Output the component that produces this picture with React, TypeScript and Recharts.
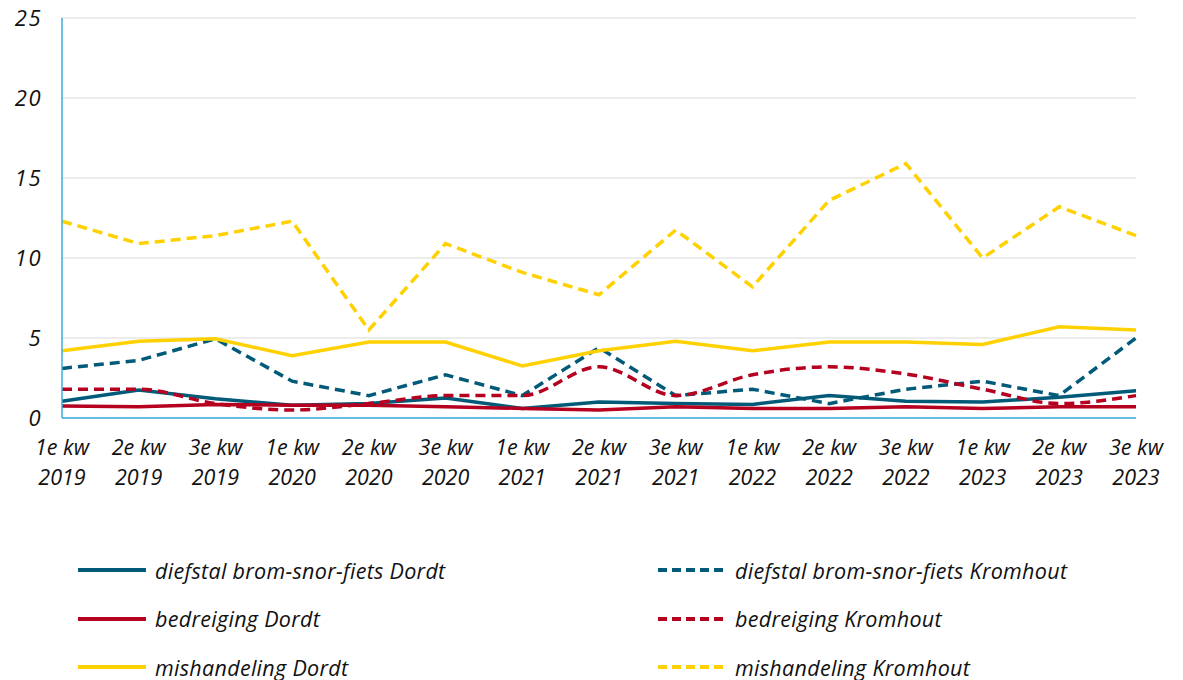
import React from "react";
import { LineChart, Line, XAxis, YAxis, CartesianGrid } from "recharts";

const quarters = [
  "1e kw|2019", "2e kw|2019", "3e kw|2019",
  "1e kw|2020", "2e kw|2020", "3e kw|2020",
  "1e kw|2021", "2e kw|2021", "3e kw|2021",
  "1e kw|2022", "2e kw|2022", "3e kw|2022",
  "1e kw|2023", "2e kw|2023", "3e kw|2023",
];

const diefstalDordt = [1.05, 1.75, 1.2, 0.8, 0.9, 1.25, 0.6, 1.0, 0.9, 0.85, 1.4, 1.05, 1.0, 1.3, 1.7];
const diefstalKromhout = [3.1, 3.6, 4.95, 2.3, 1.4, 2.7, 1.4, 4.4, 1.4, 1.8, 0.9, 1.8, 2.3, 1.4, 5.0];
const bedreigingDordt = [0.75, 0.7, 0.85, 0.8, 0.8, 0.7, 0.6, 0.5, 0.7, 0.6, 0.6, 0.7, 0.6, 0.7, 0.7];
const bedreigingKromhout = [1.8, 1.8, 0.9, 0.5, 0.9, 1.4, 1.4, 3.2, 1.4, 2.7, 3.2, 2.75, 1.8, 0.9, 1.4];
const mishandelingDordt = [4.2, 4.8, 4.95, 3.9, 4.75, 4.75, 3.25, 4.2, 4.8, 4.2, 4.75, 4.75, 4.6, 5.7, 5.5];
const mishandelingKromhout = [12.3, 10.9, 11.4, 12.3, 5.5, 10.9, 9.1, 7.7, 11.75, 8.2, 13.6, 15.9, 10.0, 13.2, 11.4];

const yTicks = [0, 5, 10, 15, 20, 25];

const TEAL = "#005a78";
const RED = "#b5001f";
const YELLOW = "#ffd100";
const FONT = "'Open Sans', sans-serif";

const series = [
  { key: "dd", name: "diefstal brom-snor-fiets Dordt", values: diefstalDordt, color: TEAL, dashed: false },
  { key: "dk", name: "diefstal brom-snor-fiets Kromhout", values: diefstalKromhout, color: TEAL, dashed: true },
  { key: "bd", name: "bedreiging Dordt", values: bedreigingDordt, color: RED, dashed: false },
  { key: "bk", name: "bedreiging Kromhout", values: bedreigingKromhout, color: RED, dashed: true },
  { key: "md", name: "mishandeling Dordt", values: mishandelingDordt, color: YELLOW, dashed: false },
  { key: "mk", name: "mishandeling Kromhout", values: mishandelingKromhout, color: YELLOW, dashed: true },
];

const data = quarters.map((q, i) => {
  const row: Record<string, string | number> = { q };
  series.forEach((s) => (row[s.key] = s.values[i]));
  return row;
});

function XTick(props: any) {
  const { x, y, payload } = props;
  const [a, b] = String(payload.value).split("|");
  return (
    <text x={x} y={y} textAnchor="middle" fontFamily={FONT} fontStyle="italic" fontSize={21.5} fill="#111">
      <tspan x={x} dy={29}>{a}</tspan>
      <tspan x={x} dy={30}>{b}</tspan>
    </text>
  );
}

function YTick(props: any) {
  const { x, y, payload } = props;
  return (
    <text x={x - 12} y={y} dy={8} textAnchor="end" fontFamily={FONT} fontStyle="italic" fontSize={22} letterSpacing={1.5} fill="#111">
      {payload.value}
    </text>
  );
}

export default function App() {
  const left = series.filter((_, i) => i % 2 === 0);
  const right = series.filter((_, i) => i % 2 === 1);
  const legendCol = (items: typeof series, x: number) =>
    items.map((s, i) => (
      <div
        key={s.key}
        style={{ position: "absolute", left: x, top: 555 + i * 48.5, display: "flex", alignItems: "center", height: 30 }}
      >
        <svg width={68} height={6} style={{ marginRight: 9 }}>
          <line x1={0} y1={3} x2={68} y2={3} stroke={s.color} strokeWidth={4} strokeDasharray={s.dashed ? "9 5" : undefined} />
        </svg>
        <span style={{ fontFamily: FONT, fontStyle: "italic", fontSize: 21.5, letterSpacing: 0.3, color: "#111", whiteSpace: "nowrap" }}>
          {s.name}
        </span>
      </div>
    ));

  return (
    <div style={{ position: "relative", width: 1167, height: 680, marginTop: -8 }}>
      <LineChart width={1167} height={508} data={data} margin={{ top: 18, right: 39, left: 0, bottom: 0 }}>
        <CartesianGrid vertical={false} stroke="#d9d9d9" />
        <XAxis
          dataKey="q"
          interval={0}
          tickLine={false}
          axisLine={{ stroke: "#3aaed8", strokeWidth: 1.5 }}
          tick={<XTick />}
          height={90}
        />
        <YAxis
          domain={[0, 25]}
          ticks={yTicks}
          width={54}
          tickLine={false}
          axisLine={{ stroke: "#3aaed8", strokeWidth: 1.5 }}
          tick={<YTick />}
        />
        {series.map((s) => (
          <Line
            key={s.key}
            dataKey={s.key}
            name={s.name}
            type={s.key === "bk" ? "monotone" : "linear"}
            stroke={s.color}
            strokeWidth={3.5}
            strokeDasharray={s.dashed ? "10 6" : undefined}
            dot={false}
            isAnimationActive={false}
          />
        ))}
      </LineChart>
      {legendCol(left, 70)}
      {legendCol(right, 650)}
    </div>
  );
}
